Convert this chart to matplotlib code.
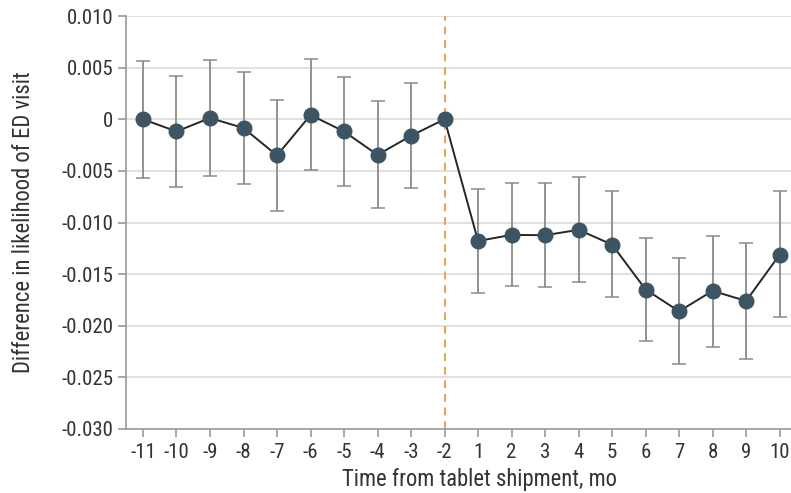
import matplotlib.pyplot as plt
from matplotlib import font_manager

# pick a narrow sans family if one is installed
names = {f.name for f in font_manager.fontManager.ttflist}
family = 'DejaVu Sans'
for cand in ['Liberation Sans Narrow', 'Roboto Condensed', 'Open Sans Condensed',
             'DejaVu Sans Condensed', 'Liberation Sans']:
    if cand in names:
        family = cand
        break
plt.rcParams['font.family'] = [family, 'DejaVu Sans']

months = ["-11", "-10", "-9", "-8", "-7", "-6", "-5", "-4", "-3", "-2",
          "1", "2", "3", "4", "5", "6", "7", "8", "9", "10"]
estimate = [0.0000, -0.00118, 0.00012, -0.00085, -0.00351, 0.00041, -0.00118, -0.00345, -0.00160, 0.0,
            -0.01179, -0.01120, -0.01123, -0.01071, -0.01214, -0.01649, -0.01860, -0.01662, -0.01760, -0.01312]
ci_upper = [0.00568, 0.00416, 0.00571, 0.00458, 0.00189, 0.00581, 0.00410, 0.00177, 0.00354, None,
            -0.00675, -0.00620, -0.00620, -0.00562, -0.00695, -0.01146, -0.01347, -0.01127, -0.01198, -0.00698]
ci_lower = [-0.00568, -0.00655, -0.00551, -0.00629, -0.00888, -0.00493, -0.00649, -0.00856, -0.00668, None,
            -0.01682, -0.01617, -0.01623, -0.01578, -0.01724, -0.02150, -0.02373, -0.02205, -0.02321, -0.01919]
yticks = [0.010, 0.005, 0, -0.005, -0.010, -0.015, -0.020, -0.025, -0.030]
ytick_labels = ["0.010", "0.005", "0", "-0.005", "-0.010", "-0.015", "-0.020", "-0.025", "-0.030"]

fig = plt.figure(figsize=(7.91, 4.93), dpi=100)
ax = fig.add_axes([126 / 791, 64 / 493, 665 / 791, 413 / 493])

x = list(range(len(months)))
# error bars (reference month -2 has none)
ex = [i for i in x if ci_upper[i] is not None]
ey = [estimate[i] for i in ex]
err_lo = [estimate[i] - ci_lower[i] for i in ex]
err_hi = [ci_upper[i] - estimate[i] for i in ex]
ax.errorbar(ex, ey, yerr=[err_lo, err_hi], fmt='none', ecolor='#8a8a8a',
            elinewidth=1.3, capsize=4.7, capthick=1.1, zorder=2)

ax.axvline(9, color='#e8a24a', linestyle=(0, (4, 3)), linewidth=1.4, zorder=1)
ax.plot(x, estimate, color='#262626', linewidth=1.4, zorder=3)
ax.plot(x, estimate, 'o', color='#3d5462', markersize=10.5, zorder=4)

ax.set_ylim(-0.030, 0.010)
ax.set_xlim(-0.507, 19.34)
ax.set_yticks(yticks)
ax.set_yticklabels(ytick_labels)
ax.set_xticks(x)
ax.set_xticklabels(months)
ax.yaxis.grid(True, color='#dcdcdc', linewidth=1.2)
ax.set_axisbelow(True)

for s in ['top', 'right']:
    ax.spines[s].set_visible(False)
for s in ['left', 'bottom']:
    ax.spines[s].set_color('#9a9a9a')
    ax.spines[s].set_linewidth(1.2)
ax.tick_params(axis='both', colors='#9a9a9a', length=6, width=1.2, labelsize=15,
               labelcolor='#333333')
ax.tick_params(axis='x', pad=4)
ax.tick_params(axis='y', pad=3)

xl = ax.set_xlabel("Time from tablet shipment, mo", fontsize=16, color='#333333')
yl = ax.set_ylabel("Difference in likelihood of ED visit", fontsize=14.5, color='#333333')

# size the axis labels to the widths seen in the original (275 px and 301 px)
r = fig.canvas.get_renderer()
xl.set_fontsize(16 * 275 / xl.get_window_extent(r).width)
yl.set_fontsize(14.5 * 301 / yl.get_window_extent(r).height)
ax.xaxis.set_label_coords((479 - 126) / 665, -(486 - 429) / 413)
ax.xaxis.label.set_va('baseline')
ax.yaxis.set_label_coords(-(126 - 35) / 665, 0.5)

fig.savefig("out.png", dpi=100)
